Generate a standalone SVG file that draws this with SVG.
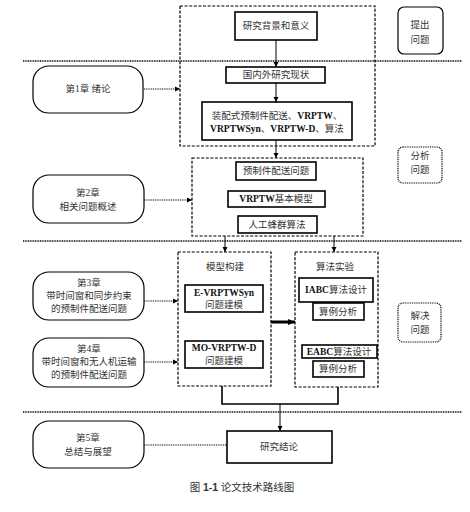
<svg xmlns="http://www.w3.org/2000/svg" width="470" height="512" viewBox="0 0 470 512">
<style>
text{font-family:"Liberation Serif","Noto Sans CJK SC",serif;font-size:9.5px;fill:#333;text-anchor:middle;dominant-baseline:central}
.box{fill:#fff;stroke:#000;stroke-width:1.6}
.thin{fill:#fff;stroke:#000;stroke-width:1.2}
.round{fill:#fff;stroke:#000;stroke-width:1.2}
.dash{fill:none;stroke:#000;stroke-width:1.2;stroke-dasharray:3 1.6}
.dot{fill:none;stroke:#000;stroke-width:1.2;stroke-dasharray:1 0.8}
.sep{fill:none;stroke:#000;stroke-width:1.3;stroke-dasharray:1 0.7}
.ln{fill:none;stroke:#000;stroke-width:1}
.join{fill:none;stroke:#000;stroke-width:1.6}
.b{font-weight:bold;fill:#111}
.cap{font-size:10.5px}
</style>
<defs>
<marker id="ah" markerWidth="6" markerHeight="6" refX="5" refY="3" orient="auto" markerUnits="userSpaceOnUse"><path d="M0,0.5 L5,3 L0,5.5 Z" fill="#000"/></marker>
<marker id="ahb" markerWidth="8" markerHeight="8" refX="7" refY="4" orient="auto" markerUnits="userSpaceOnUse"><path d="M0,1 L7,4 L0,7 Z" fill="#000"/></marker>
</defs>

<g id="separators">
<line class="sep" x1="23" y1="61" x2="462" y2="61"/>
<line class="sep" x1="23" y1="241" x2="462" y2="241"/>
<line class="sep" x1="23" y1="412" x2="462" y2="412"/>
</g>

<g id="groups">
<rect class="dash" x="180" y="6" width="195" height="140"/>
<rect class="dash" x="192" y="158" width="171" height="78"/>
<rect class="dash" x="178" y="252" width="93" height="134"/>
<rect class="dash" x="295" y="252" width="83" height="135"/>
</g>

<g id="connectors">
<line class="ln" x1="276" y1="40" x2="276" y2="67" marker-end="url(#ah)"/>
<line class="ln" x1="276" y1="83" x2="276" y2="102" marker-end="url(#ah)"/>
<line class="ln" x1="276" y1="140" x2="276" y2="158" marker-end="url(#ah)"/>
<line class="ln" x1="225" y1="236" x2="225" y2="252" marker-end="url(#ah)"/>
<line class="ln" x1="334" y1="236" x2="334" y2="252" marker-end="url(#ah)"/>
<line class="dot" x1="144" y1="89" x2="180" y2="89" marker-end="url(#ah)"/>
<line class="dot" x1="144" y1="200" x2="192" y2="200" marker-end="url(#ah)"/>
<line class="dot" x1="144" y1="301" x2="178" y2="301" marker-end="url(#ah)"/>
<line class="dot" x1="144" y1="362" x2="178" y2="362" marker-end="url(#ah)"/>
<line class="dot" x1="144" y1="445" x2="227" y2="445"/>
<line x1="271" y1="322" x2="295" y2="322" stroke="#000" stroke-width="3" marker-end="url(#ahb)"/>
<polyline class="join" points="222,386 222,404 338,404 338,387"/>
<line class="ln" x1="280" y1="404" x2="280" y2="431" marker-end="url(#ah)"/>
</g>

<g id="n-tichu"><rect class="thin" x="398" y="7" width="45" height="47" rx="6"/><text x="420" y="25">提出</text><text x="420" y="40">问题</text></g>
<g id="n-fenxi"><rect class="dot" x="398" y="147" width="44" height="36" rx="5"/><text x="420" y="156">分析</text><text x="420" y="170">问题</text></g>
<g id="n-jiejue"><rect class="dot" x="398" y="303" width="43" height="39" rx="5"/><text x="420" y="316">解决</text><text x="420" y="330">问题</text></g>

<g id="n-ch1"><rect class="round" x="33" y="66" width="110" height="47" rx="16"/><text x="88" y="89">第1章 绪论</text></g>
<g id="n-ch2"><rect class="round" x="33" y="175" width="111" height="48" rx="16"/><text x="88" y="193">第2章</text><text x="88" y="207">相关问题概述</text></g>
<g id="n-ch3"><rect class="round" x="33" y="272" width="111" height="48" rx="16"/><text x="89" y="283">第3章</text><text x="89" y="296">带时间窗和同步约束</text><text x="89" y="309">的预制件配送问题</text></g>
<g id="n-ch4"><rect class="round" x="33" y="338" width="111" height="49" rx="16"/><text x="89" y="349">第4章</text><text x="89" y="362">带时间窗和无人机运输</text><text x="89" y="375">的预制件配送问题</text></g>
<g id="n-ch5"><rect class="round" x="33" y="421" width="111" height="47" rx="16"/><text x="88" y="438">第5章</text><text x="88" y="452">总结与展望</text></g>

<g id="n-bg"><rect class="box" x="235" y="12" width="82" height="28"/><text x="276" y="26">研究背景和意义</text></g>
<g id="n-status"><rect class="box" x="226" y="67" width="99" height="16"/><text x="276" y="75">国内外研究现状</text></g>
<g id="n-topics"><rect class="box" x="202" y="102" width="150" height="38" stroke-width="2"/><text x="277" y="116">装配式预制件配送、<tspan class="b">VRPTW</tspan>、</text><text x="277" y="129"><tspan class="b">VRPTWSyn</tspan>、<tspan class="b">VRPTW-D</tspan>、算法</text></g>
<g id="n-prob"><rect class="box" x="236" y="162" width="80" height="18"/><text x="276" y="171">预制件配送问题</text></g>
<g id="n-vrptw"><rect class="box" x="228" y="191" width="97" height="16"/><text x="276" y="199"><tspan class="b">VRPTW</tspan>基本模型</text></g>
<g id="n-abc"><rect class="box" x="238" y="216" width="79" height="17"/><text x="277" y="224.5">人工蜂群算法</text></g>

<g id="n-model"><text x="225" y="267">模型构建</text></g>
<g id="n-evrp"><rect class="box" x="185" y="285" width="78" height="27"/><text x="224" y="293" class="b">E-VRPTWSyn</text><text x="224" y="305">问题建模</text></g>
<g id="n-movrp"><rect class="box" x="185" y="341" width="78" height="27"/><text x="224" y="348" class="b">MO-VRPTW-D</text><text x="224" y="361">问题建模</text></g>

<g id="n-exp"><text x="335" y="267">算法实验</text></g>
<g id="n-iabc"><rect class="box" x="299" y="278" width="74" height="24" stroke-width="2"/><text x="336" y="290"><tspan class="b">IABC</tspan>算法设计</text></g>
<g id="n-case1"><rect class="box" x="313" y="303" width="51" height="17"/><text x="338" y="311.5">算例分析</text></g>
<g id="n-eabc"><rect class="box" x="302" y="345" width="75" height="13" stroke-width="2"/><text x="339" y="351.5"><tspan class="b">EABC</tspan>算法设计</text></g>
<g id="n-case2"><rect class="box" x="313" y="361" width="51" height="16"/><text x="338" y="369">算例分析</text></g>

<g id="n-concl"><rect class="box" x="227" y="431" width="105" height="32"/><text x="279" y="447">研究结论</text></g>

<text class="cap" x="242" y="487">图 <tspan font-family="Liberation Sans" font-weight="bold">1-1</tspan> 论文技术路线图</text>
</svg>
